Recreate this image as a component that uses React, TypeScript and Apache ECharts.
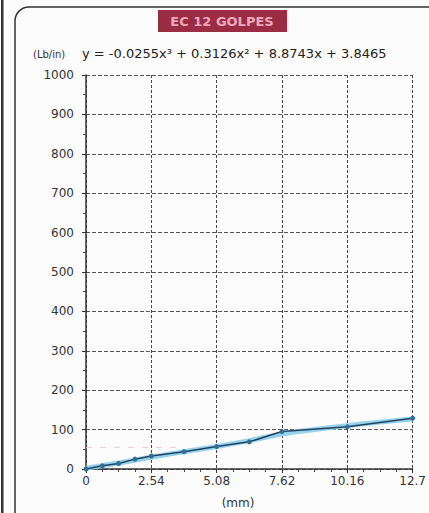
import React, { useEffect, useRef } from "react";
import * as echarts from "echarts";

const titleText = "EC 12 GOLPES";
const unitText = "(Lb/in)";
const equationText = "y = -0.0255x³ + 0.3126x² + 8.8743x + 3.8465";
const xAxisName = "(mm)";

const xTickLabels = ["0", "2.54", "5.08", "7.62", "10.16", "12.7"];

const dataX = [0, 0.635, 1.27, 1.905, 2.54, 3.81, 5.08, 6.35, 7.62, 10.16, 12.7];
const dataY = [0, 8, 14, 25, 33, 44, 57, 69, 95, 107, 129];

const trendX = [0, 1.27, 2.54, 3.81, 5.08, 6.35, 7.62, 8.89, 10.16, 11.43, 12.7];
const trendY = [2, 15, 30, 44, 57, 72, 89, 100, 110, 119, 127];

const pinkX = [0, 3.8];
const pinkY = [55, 55];

const FONT = "DejaVu Sans";

export default function App() {
  const ref = useRef<HTMLDivElement>(null);
  useEffect(() => {
    if (!ref.current) return;
    const chart = echarts.init(ref.current, null, { renderer: "svg" });
    const option: any = {
      animation: false,
      backgroundColor: "#fcfcfc",
      grid: { left: 86, right: 16, top: 75, bottom: 44, containLabel: false },
      xAxis: {
        type: "value",
        min: 0,
        max: 12.7,
        interval: 2.54,
        axisLine: { show: true, lineStyle: { color: "#333", width: 1.5 } },
        axisTick: { show: true, length: 4, lineStyle: { color: "#333" } },
        minorTick: { show: true, splitNumber: 4, length: 3, lineStyle: { color: "#444" } },
        axisLabel: {
          color: "#333",
          fontFamily: FONT,
          fontSize: 12,
          margin: 6,
          formatter: (v: number) => xTickLabels[Math.round(v / 2.54)] ?? "",
        },
        splitLine: { show: true, lineStyle: { color: "#444", type: [3, 2], width: 1 } },
      },
      yAxis: {
        type: "value",
        min: 0,
        max: 1000,
        interval: 100,
        axisLine: { show: true, lineStyle: { color: "#333", width: 1.5 } },
        axisTick: { show: true, length: 4, lineStyle: { color: "#333" } },
        minorTick: { show: true, splitNumber: 2, length: 3, lineStyle: { color: "#444" } },
        axisLabel: {
          color: "#333",
          fontFamily: FONT,
          fontSize: 12,
          margin: 12,
          formatter: (v: number) => String(v),
        },
        splitLine: { show: true, lineStyle: { color: "#555", type: [4, 2], width: 1 } },
      },
      series: [
        {
          type: "line",
          data: pinkX.map((x, i) => [x, pinkY[i]]),
          showSymbol: false,
          lineStyle: { color: "#f1c4cc", width: 1, type: [6, 8] },
          z: 1,
        },
        {
          type: "line",
          smooth: true,
          data: trendX.map((x, i) => [x, trendY[i]]),
          showSymbol: false,
          lineStyle: { color: "#8fd0ec", width: 5, opacity: 0.95 },
          z: 2,
        },
        {
          type: "line",
          data: dataX.map((x, i) => [x, dataY[i]]),
          symbol: "circle",
          symbolSize: 5,
          itemStyle: { color: "#2f6f96" },
          lineStyle: { color: "#24435f", width: 1.5 },
          z: 3,
        },
      ],
      graphic: [
        { type: "rect", shape: { x: 1, y: 0, width: 2.5, height: 513 }, style: { fill: "#333" } },
        {
          type: "rect",
          shape: { x: 15, y: 7, width: 440, height: 560, r: 14 },
          style: { fill: "none", stroke: "#333", lineWidth: 1.5 },
        },
        { type: "rect", shape: { x: 158, y: 10, width: 129, height: 22 }, style: { fill: "#9a2c44" } },
        {
          type: "text",
          x: 222,
          y: 21,
          style: {
            text: titleText,
            fill: "#f0a8bc",
            font: `bold 13px "${FONT}"`,
            align: "center",
            verticalAlign: "middle",
          },
        },
        {
          type: "text",
          x: 33,
          y: 54,
          style: { text: unitText, fill: "#333", font: `10px "${FONT}"`, verticalAlign: "middle" },
        },
        {
          type: "text",
          x: 82,
          y: 53,
          style: { text: equationText, fill: "#222", font: `13px "${FONT}"`, verticalAlign: "middle" },
        },
        {
          type: "text",
          x: 238,
          y: 503,
          style: {
            text: xAxisName,
            fill: "#333",
            font: `12px "${FONT}"`,
            align: "center",
            verticalAlign: "middle",
          },
        },
      ],
    };
    chart.setOption(option);
    return () => chart.dispose();
  }, []);
  return (
    <div style={{ position: "absolute", left: 0, top: 0 }}>
      <div ref={ref} style={{ width: 429, height: 513 }} />
    </div>
  );
}
